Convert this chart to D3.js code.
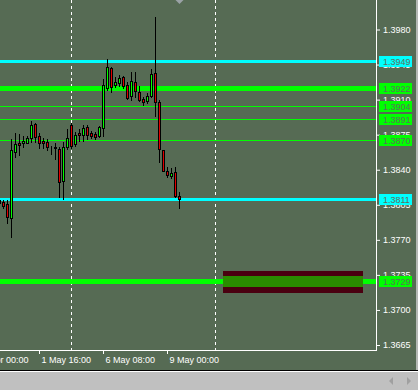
<!DOCTYPE html>
<html><head><meta charset="utf-8">
<script src="https://cdn.jsdelivr.net/npm/d3@7/dist/d3.min.js"></script>
<style>
html,body{margin:0;padding:0;background:#566b54;overflow:hidden}
svg{display:block}
text{font-family:"Liberation Sans",Arial,sans-serif;font-size:9px}
</style></head>
<body>
<svg id="c" width="418" height="390"></svg>
<script>
// ---- data ----
const opens  = [1.38098,1.38078,1.38058,1.37919,1.38580,1.38664,1.38664,1.38670,1.38720,1.38857,1.38737,1.38687,1.38677,1.38616,1.38624,1.38604,1.38285,1.38630,1.38847,1.38657,1.38770,1.38750,1.38824,1.38764,1.38760,1.38740,1.38814,1.39213,1.39413,1.39243,1.39263,1.39326,1.39243,1.39136,1.39273,1.39173,1.39106,1.39086,1.39139,1.39363,1.39076,1.38597,1.38385,1.38341,1.38375,1.38138];
const highs  = [1.38118,1.38098,1.38098,1.38707,1.38764,1.38754,1.38737,1.38737,1.38887,1.38870,1.38770,1.38714,1.38704,1.38637,1.38664,1.38630,1.38680,1.38804,1.38864,1.38777,1.38810,1.38847,1.38847,1.38790,1.38780,1.38837,1.39306,1.39506,1.39429,1.39323,1.39346,1.39336,1.39279,1.39379,1.39379,1.39236,1.39123,1.39163,1.39403,1.39928,1.39096,1.38600,1.38431,1.38415,1.38431,1.38181];
const lows   = [1.38038,1.38018,1.37869,1.37729,1.38528,1.38548,1.38630,1.38664,1.38680,1.38680,1.38614,1.38614,1.38597,1.38557,1.38511,1.38125,1.38111,1.38604,1.38614,1.38637,1.38690,1.38690,1.38710,1.38714,1.38704,1.38724,1.38740,1.39196,1.39179,1.39223,1.39236,1.39219,1.39106,1.39096,1.39129,1.39089,1.39043,1.39063,1.39129,1.38940,1.38481,1.38385,1.38331,1.38315,1.38131,1.38021];
const closes = [1.38068,1.38038,1.37926,1.38597,1.38657,1.38644,1.38690,1.38720,1.38847,1.38724,1.38664,1.38670,1.38624,1.38620,1.38620,1.38275,1.38624,1.38714,1.38640,1.38747,1.38750,1.38820,1.38750,1.38740,1.38730,1.38824,1.39243,1.39423,1.39229,1.39273,1.39313,1.39236,1.39119,1.39286,1.39183,1.39096,1.39073,1.39133,1.39356,1.39079,1.38604,1.38391,1.38351,1.38368,1.38141,1.38108];

const priceTicks = [1.3980,1.3945,1.3910,1.3875,1.3840,1.3805,1.3770,1.3735,1.3700,1.3665];
const timeTickIdx = [-6,10,26,42];
const timeLabels = ["28 Apr 00:00","1 May 16:00","6 May 08:00","9 May 00:00"];
const separatorIdx = [18,54];

const levelPrices = [1.3949,1.3922,1.3904,1.3891,1.3870,1.3811,1.3729];
const levelKinds  = ["cyan","greenThick","green","green","green","cyan","greenThick"];

const zoneIdx = [56,91];
const zoneOuter = [1.37390,1.37170];
const zoneInner = [1.37340,1.37230];

// ---- styles ----
const BG="#566b54";
const kindStyle = {
  cyan:{color:"#00ffff",w:3},
  greenThick:{color:"#00ff00",w:5},
  green:{color:"#00ff00",w:1}
};

const W=418,H=390, plotR=376, plotB=350;
const svg=d3.select("#c");
const x=d3.scaleLinear().domain([0,1]).range([-1,3]);
const y=d3.scaleLinear().domain([1.3665,1.3980]).range([345,29.5]);

svg.append("rect").attr("width",W).attr("height",H).attr("fill",BG);

svg.append("clipPath").attr("id","pc").append("rect").attr("x",0).attr("y",0).attr("width",plotR).attr("height",plotB);
const plot=svg.append("g").attr("clip-path","url(#pc)");

// separators
plot.selectAll("line.sep").data(separatorIdx).join("line")
  .attr("x1",d=>x(d)+0.5).attr("x2",d=>x(d)+0.5).attr("y1",0).attr("y2",plotB)
  .attr("stroke","#fff").attr("stroke-width",1).attr("stroke-dasharray","3,3");

// levels
const levels=levelPrices.map((p,i)=>({p,k:levelKinds[i]}));
plot.selectAll("line.lvl").data(levels).join("line")
  .attr("x1",0).attr("x2",plotR)
  .attr("y1",d=>Math.round(y(d.p))+0.5).attr("y2",d=>Math.round(y(d.p))+0.5)
  .attr("stroke",d=>kindStyle[d.k].color)
  .attr("stroke-width",d=>kindStyle[d.k].w);

// zone
plot.append("rect").attr("x",x(zoneIdx[0])).attr("width",x(zoneIdx[1])-x(zoneIdx[0]))
  .attr("y",Math.round(y(zoneOuter[0]))).attr("height",Math.round(y(zoneOuter[1]))-Math.round(y(zoneOuter[0])))
  .attr("fill","#4a0010");
plot.append("rect").attr("x",x(zoneIdx[0])).attr("width",x(zoneIdx[1])-x(zoneIdx[0]))
  .attr("y",Math.round(y(zoneInner[0]))).attr("height",Math.round(y(zoneInner[1]))-Math.round(y(zoneInner[0])))
  .attr("fill","#2a8c00");

// candles
const candles=opens.map((o,i)=>({i,o,h:highs[i],l:lows[i],c:closes[i]}));
const cg=plot.selectAll("g.cd").data(candles).join("g");
cg.append("line")
  .attr("x1",d=>x(d.i)+0.5).attr("x2",d=>x(d.i)+0.5)
  .attr("y1",d=>Math.round(y(d.h))).attr("y2",d=>Math.round(y(d.l))+1)
  .attr("stroke","#000").attr("stroke-width",1);
cg.append("rect")
  .attr("x",d=>x(d.i)-0.5).attr("width",2)
  .attr("y",d=>Math.round(y(Math.max(d.o,d.c)))+0.5)
  .attr("height",d=>Math.max(0,Math.round(y(Math.min(d.o,d.c)))-Math.round(y(Math.max(d.o,d.c)))))
  .attr("fill",d=>d.c>=d.o?"#00ff00":"#e00000")
  .attr("stroke","#000").attr("stroke-width",1);

// borders
svg.append("line").attr("x1",plotR+0.5).attr("x2",plotR+0.5).attr("y1",0).attr("y2",plotB+1).attr("stroke","#fff");
svg.append("line").attr("x1",0).attr("x2",plotR+1).attr("y1",plotB+0.5).attr("y2",plotB+0.5).attr("stroke","#fff");

// right axis
const ra=svg.append("g").attr("transform",`translate(${plotR+1},0)`)
  .call(d3.axisRight(y).tickValues(priceTicks).tickSize(3).tickPadding(3).tickFormat(d3.format(".4f")));
ra.select(".domain").remove();
ra.selectAll("line").attr("stroke","#fff");
ra.selectAll("text").attr("fill","#fff").style("font-family",'"Liberation Sans",Arial,sans-serif').style("font-size","9px");

// bottom axis
const ba=svg.append("g").attr("transform",`translate(0,${plotB+1})`)
  .call(d3.axisBottom(x).tickValues(timeTickIdx).tickSize(3).tickPadding(3).tickFormat((d,i)=>timeLabels[i]));
ba.select(".domain").remove();
ba.selectAll("line").attr("stroke","#fff");
ba.selectAll("text").attr("fill","#fff").attr("text-anchor","start").attr("dx","2")
  .style("font-family",'"Liberation Sans",Arial,sans-serif').style("font-size","9px");

// level price labels
const lb=svg.selectAll("g.lb").data(levels).join("g")
  .attr("transform",d=>`translate(379,${Math.round(y(d.p))})`);
lb.append("rect").attr("x",0).attr("y",-5).attr("width",33).attr("height",11)
  .attr("fill",d=>kindStyle[d.k].color);
lb.append("text").attr("x",4).attr("y",3.5).attr("fill","#5e6e5e")
  .text(d=>d3.format(".4f")(d.p));

// current bar marker
const cx=x(candles.length-1)+0.5;
svg.append("path").attr("d",`M${cx-4},0L${cx+4},0L${cx},4Z`).attr("fill","#9aa2a6");

// right edge strip
svg.append("rect").attr("x",416).attr("y",0).attr("width",2).attr("height",370).attr("fill","#b4b8b4");

// bottom scroll bar
svg.append("rect").attr("x",0).attr("y",370).attr("width",W).attr("height",1).attr("fill","#000");
svg.append("rect").attr("x",0).attr("y",371).attr("width",W).attr("height",1).attr("fill","#fff");
svg.append("rect").attr("x",0).attr("y",372).attr("width",W).attr("height",18).attr("fill","#c0c0c0");
svg.append("path").attr("d","M389,381L393,377L393,385Z").attr("fill","#a0a0a0");
svg.append("path").attr("d","M411,381L407,377L407,385Z").attr("fill","#a0a0a0");
</script>
</body></html>
